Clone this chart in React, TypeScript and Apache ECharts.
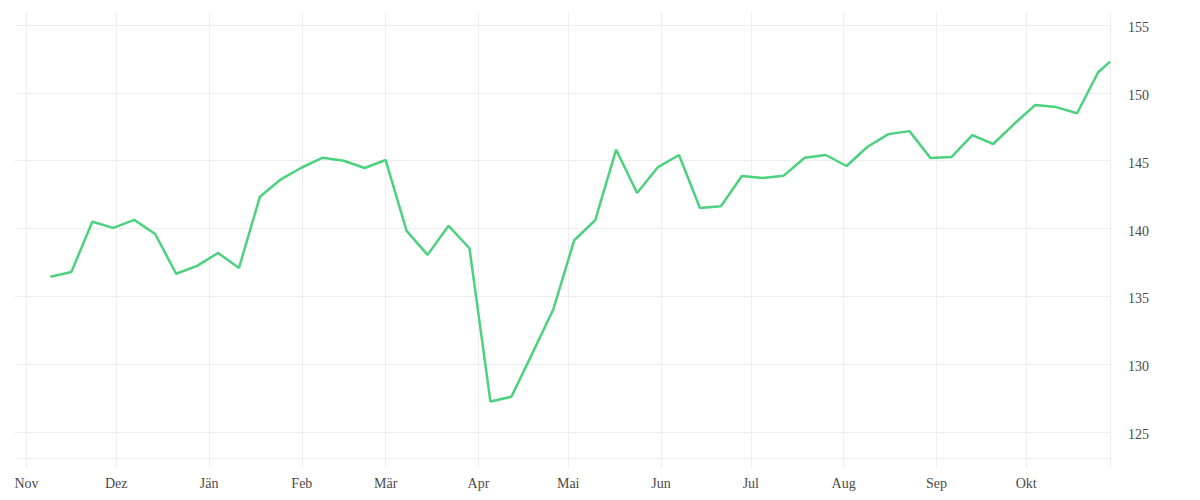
import React, { useEffect, useRef } from "react";
import * as echarts from "echarts";

const dates: string[] = [
  "2022-11-09", "2022-11-16", "2022-11-23", "2022-11-30", "2022-12-07", "2022-12-14",
  "2022-12-21", "2022-12-28", "2023-01-04", "2023-01-11", "2023-01-18", "2023-01-25",
  "2023-02-01", "2023-02-08", "2023-02-15", "2023-02-22", "2023-03-01", "2023-03-08",
  "2023-03-15", "2023-03-22", "2023-03-29", "2023-04-05", "2023-04-12", "2023-04-19",
  "2023-04-26", "2023-05-03", "2023-05-10", "2023-05-17", "2023-05-24", "2023-05-31",
  "2023-06-07", "2023-06-14", "2023-06-21", "2023-06-28", "2023-07-05", "2023-07-12",
  "2023-07-19", "2023-07-26", "2023-08-02", "2023-08-09", "2023-08-16", "2023-08-23",
  "2023-08-30", "2023-09-06", "2023-09-13", "2023-09-20", "2023-09-27", "2023-10-04",
  "2023-10-11", "2023-10-18", "2023-10-25", "2023-10-29",
];

const values: number[] = [
  136.45, 136.8, 140.5, 140.05, 140.64, 139.6, 136.67, 137.25, 138.2, 137.1, 142.35, 143.63,
  144.5, 145.22, 145.0, 144.46, 145.05, 139.83, 138.06, 140.2, 138.55, 127.25, 127.6, 130.8,
  134.04, 139.14, 140.61, 145.81, 142.62, 144.53, 145.42, 141.52, 141.64, 143.87, 143.73, 143.9,
  145.22, 145.42, 144.61, 146.03, 146.96, 147.18, 145.2, 145.27, 146.89, 146.23, 147.72, 149.1,
  148.95, 148.5, 151.5, 152.3,
];

const monthTicks: string[] = [
  "2022-11-01", "2022-12-01", "2023-01-01", "2023-02-01", "2023-03-01", "2023-04-01",
  "2023-05-01", "2023-06-01", "2023-07-01", "2023-08-01", "2023-09-01", "2023-10-01",
];

const monthNames: string[] = [
  "Jän", "Feb", "Mär", "Apr", "Mai", "Jun", "Jul", "Aug", "Sep", "Okt", "Nov", "Dez",
];

const xMin = "2022-10-28T04:00:00";
const xMax = "2023-10-29T00:00:00";
const yMin = 123.09;
const yMax = 155.96;

const ts = (s: string) => {
  const full = s.length <= 10 ? s + "T00:00:00" : s;
  return new Date(full + "Z").getTime();
};

export default function App() {
  const ref = useRef<HTMLDivElement>(null);

  useEffect(() => {
    document.body.style.margin = "0";
    if (!ref.current) return;
    const chart = echarts.init(ref.current, undefined, { renderer: "svg" });
    const fontFamily = "'Liberation Serif', serif";
    const gridColor = "#eeeeee";
    const tickVals = monthTicks.map(ts);
    chart.setOption({
      animation: false,
      backgroundColor: "#ffffff",
      grid: { left: 15, right: 90, top: 12, bottom: 42, containLabel: false },
      xAxis: {
        type: "value",
        min: ts(xMin),
        max: ts(xMax),
        axisLine: { show: false },
        axisTick: {
          show: true,
          length: 10,
          lineStyle: { color: gridColor, width: 1 },
          customValues: [...tickVals, ts(xMax)],
        },
        splitLine: { show: true, lineStyle: { color: gridColor, width: 1 } },
        axisLabel: {
          customValues: tickVals,
          margin: 18,
          color: "#4a4a4a",
          fontSize: 14,
          fontFamily,
          formatter: (v: number) => monthNames[new Date(v).getUTCMonth()],
        },
      },
      yAxis: {
        type: "value",
        position: "right",
        min: yMin,
        max: yMax,
        minInterval: 5,
        maxInterval: 5,
        axisLine: { show: false },
        axisTick: { show: false },
        splitLine: {
          show: true,
          showMaxLine: false,
          lineStyle: { color: gridColor, width: 1 },
        },
        axisLabel: {
          margin: 18,
          color: "#4a4a4a",
          fontSize: 14,
          fontFamily,
          verticalAlign: "top",
          lineHeight: 5,
          showMinLabel: false,
          showMaxLabel: false,
        },
      },
      series: [
        {
          type: "line",
          data: dates.map((d, i) => [ts(d), values[i]]),
          showSymbol: false,
          symbol: "none",
          lineStyle: { color: "#4cd27e", width: 2.5 },
          itemStyle: { color: "#4cd27e" },
        },
      ],
    });
    return () => chart.dispose();
  }, []);

  return (
    <div
      ref={ref}
      style={{ position: "fixed", left: 0, top: 0, width: 1200, height: 500 }}
    />
  );
}
